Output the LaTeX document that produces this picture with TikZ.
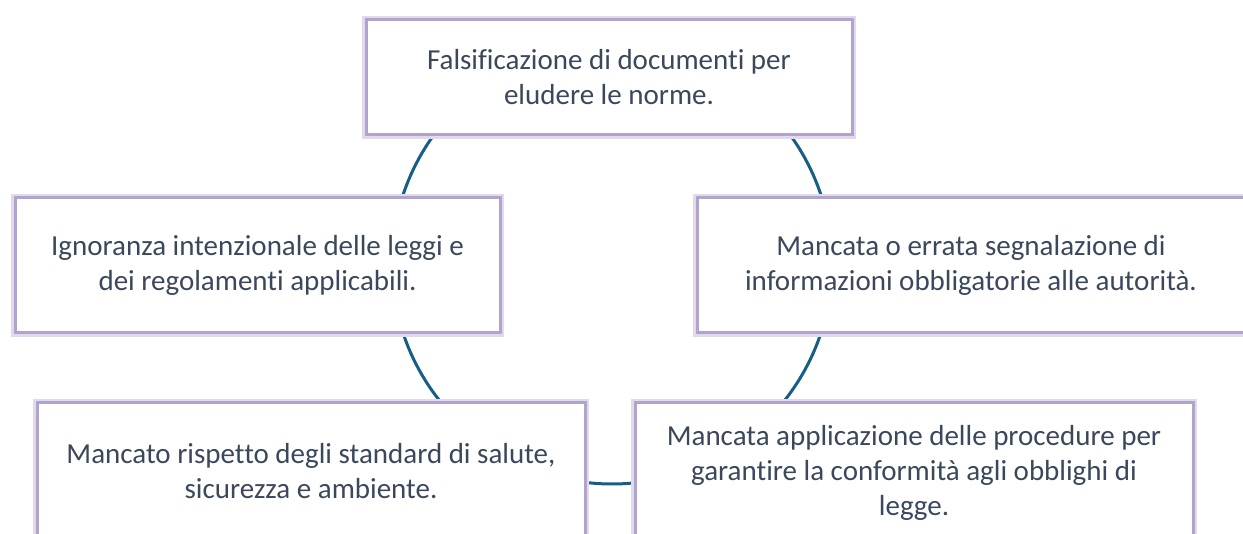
\documentclass[tikz,border=0pt]{standalone}
\usepackage{fontspec}
\setmainfont{Carlito}[Ligatures={NoCommon}]
\definecolor{ringblue}{RGB}{22,94,131}
\definecolor{boxpurple}{RGB}{178,162,206}
\definecolor{txtslate}{RGB}{59,72,92}
\tikzset{
  cyclebox/.style={draw=boxpurple, line width=3pt, fill=white, inner sep=0pt,
    align=center, text=txtslate, font=\fontsize{29}{35}\selectfont,
    rectangle, anchor=center},
  glow/.style={draw=boxpurple!40, line width=8pt},
  ring/.style={draw=ringblue, line width=3pt}
}
\begin{document}
\begin{tikzpicture}[x=1pt,y=-1pt]
\useasboundingbox (0,0) rectangle (1243,534);
\clip (0,0) rectangle (1243,534);
\fill[white] (0,0) rectangle (1243,534);
% ring
\coordinate (c) at (612,264);
\draw[ring] (c) circle[radius=220];
% glows
\draw[glow] (366,20) rectangle (852,135);
\draw[glow] (15,198) rectangle (500,333);
\draw[glow] (697,198) rectangle (1245,333);
\draw[glow] (37,403) rectangle (585,539);
\draw[glow] (635,403) rectangle (1193,543);
% boxes
\node[cyclebox, minimum width=486pt, minimum height=115pt] (top) at (609,77.5)
  {Falsificazione di documenti per\\eludere le norme.};
\node[cyclebox, minimum width=485pt, minimum height=135pt] (left) at (257.5,265.5)
  {Ignoranza intenzionale delle leggi e\\dei regolamenti applicabili.};
\node[cyclebox, minimum width=548pt, minimum height=135pt] (right) at (971,265.5)
  {Mancata o errata segnalazione di\\informazioni obbligatorie alle autorità.};
\node[cyclebox, minimum width=548pt, minimum height=136pt] (bl) at (311,471)
  {Mancato rispetto degli standard di salute,\\sicurezza e ambiente.};
\node[cyclebox, minimum width=558pt, minimum height=140pt] (br) at (914,473)
  {Mancata applicazione delle procedure per\\garantire la conformità agli obblighi di\\legge.};
\end{tikzpicture}
\end{document}
